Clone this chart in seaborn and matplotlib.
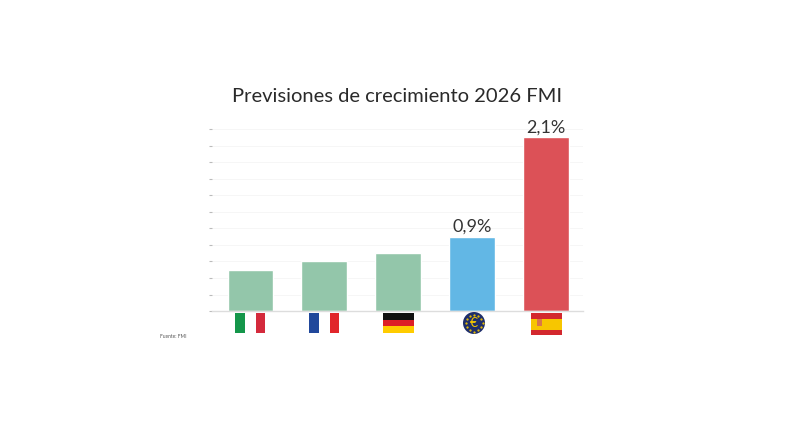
import matplotlib.pyplot as plt
import matplotlib.patches as mpatches
import matplotlib.transforms as mtransforms
import numpy as np
import pandas as pd
import seaborn as sns

# Data
paises = ['Italia', 'Francia', 'Alemania', 'Eurozona', 'España']
crecimiento = [0.5, 0.6, 0.7, 0.9, 2.1]
colores = ['#93C6AA', '#93C6AA', '#93C6AA', '#62B7E5', '#DC5157']
etiquetas = {3: '0,9%', 4: '2,1%'}

df = pd.DataFrame({'pais': paises, 'valor': crecimiento})

sns.set_style('white')
plt.rcParams['font.family'] = ['Lato', 'DejaVu Sans']

fig = plt.figure(figsize=(8, 4.45), dpi=100)
ax = fig.add_axes([0.265, 0.301, 0.464, 0.409])

sns.barplot(data=df, x='pais', y='valor', hue='pais', palette=colores,
            width=0.62, legend=False, ax=ax, saturation=1)

ax.set_ylim(0, 2.2)
ax.set_xlim(-0.52, 4.5)
ax.set_yticks(np.arange(0, 2.21, 0.2))
ax.set_yticklabels([])
ax.set_xticks([])
ax.set_xlabel('')
ax.set_ylabel('')
ax.tick_params(axis='y', length=2, color='#bbbbbb', left=True)
ax.grid(axis='y', color='#f5f5f5', linewidth=0.6)
ax.set_axisbelow(True)
for s in ['top', 'right', 'left']:
    ax.spines[s].set_visible(False)
ax.spines['bottom'].set_color('#dddddd')
ax.spines['bottom'].set_linewidth(1)

for i, txt in etiquetas.items():
    ax.text(i, crecimiento[i] + 0.025, txt, ha='center', va='bottom',
            fontsize=13, color='#333333')

# Flags under the bars (x in data, y in figure fraction)
trans = mtransforms.blended_transform_factory(ax.transData, fig.transFigure)
fw = 0.42  # flag width in data units
y0, y1 = 1 - 333 / 445, 1 - 313 / 445
fh = y1 - y0


def rect(x, y, w, h, c):
    fig.patches.append(mpatches.Rectangle((x, y), w, h, color=c, transform=trans,
                                          clip_on=False, lw=0))


# Italy / France (vertical tricolour)
for i, cols in [(0, ['#14964A', '#ffffff', '#D42A3C']), (1, ['#21489B', '#ffffff', '#E1262B'])]:
    for k, c in enumerate(cols):
        rect(i - fw / 2 + k * fw / 3, y0, fw / 3 * 0.95, fh, c)
# Germany
for k, c in enumerate(['#FFCC00', '#DD1F26', '#111111']):
    rect(2 - fw / 2, y0 + k * fh / 3, fw, fh / 3, c)
# Spain
sh = fh + 2 / 445
rect(4 - fw / 2, y0 - 2 / 445, fw, sh, '#D3282E')
rect(4 - fw / 2, y0 - 2 / 445 + sh / 4, fw, sh / 2, '#F7C600')
rect(4 - fw / 2 + 0.08, y0 + fh * 0.33, 0.07, fh * 0.35, '#D9774A')
# Euro symbol
cx, cy = 474 / 800, 1 - 323 / 445
fig.patches.append(mpatches.Ellipse((cx, cy), 22 / 800, 22 / 445, color='#1E2E6B',
                                    transform=fig.transFigure, lw=0))
ang = np.linspace(0, 2 * np.pi, 12, endpoint=False)
fig.lines.append(plt.Line2D(cx + 8.5 / 800 * np.cos(ang), cy + 8.5 / 445 * np.sin(ang),
                            transform=fig.transFigure, ls='none', marker='o',
                            ms=0.6, color='#F2C400'))
fig.text(cx, cy, '€', ha='center', va='center', fontsize=10, color='#F2C400')

fig.text(0.4965, 1 - 96 / 445, 'Previsiones de crecimiento 2026 FMI', ha='center',
         va='center', fontsize=14.5, color='#2a2a2a')
fig.text(160 / 800, 1 - 337 / 445, 'Fuente: FMI', ha='left', va='center',
         fontsize=3.5, color='#555555')

fig.savefig('out.png', dpi=100, facecolor='white')
